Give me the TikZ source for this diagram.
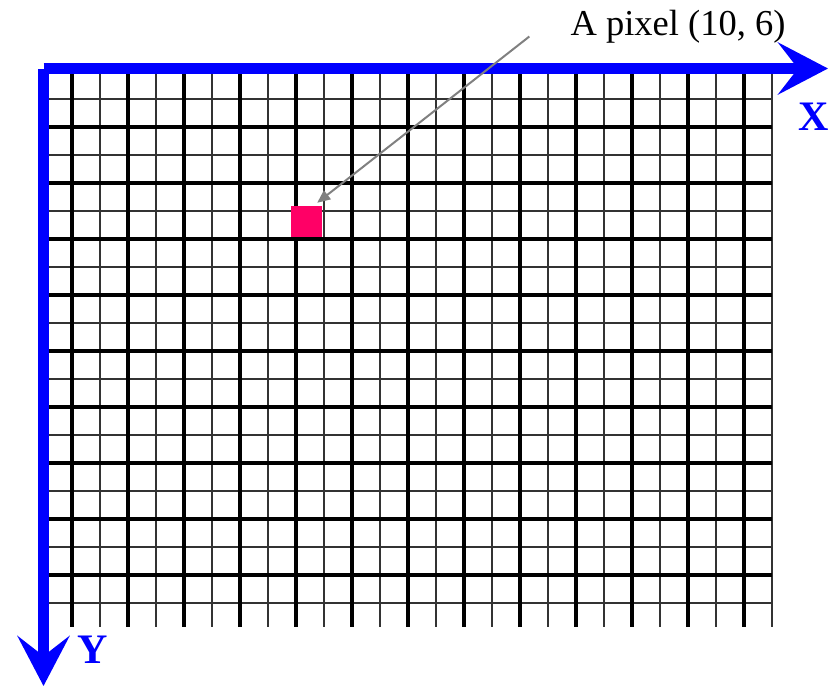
\documentclass[tikz,border=0pt]{standalone}
\usepackage{fontspec}
\setmainfont{Liberation Serif}
\usetikzlibrary{arrows.meta}
\definecolor{pixelred}{RGB}{255,0,102}
\begin{document}
\begin{tikzpicture}[x=1pt,y=-1pt,line cap=butt,line join=miter]
			\tikzset{
				thinrule/.style={black!80,line width=1.8pt},
				thickrule/.style={black,line width=3.8pt},
				axis/.style={blue,line width=11pt,-{Stealth[length=50pt,width=52pt,inset=20pt]}},
				axislabel/.style={blue,inner sep=0pt,font=\fontsize{42}{42}\selectfont\bfseries},
				pixelbox/.style={fill=pixelred,minimum size=31pt,inner sep=0pt},
				pointer/.style={black!50,line width=2pt,-{Triangle[length=13pt,width=11pt]}}
			}
			\useasboundingbox (0,0) rectangle (836,686);
			\foreach \gx in {100,156,...,772} \draw[thinrule] (\gx,71) -- (\gx,627);
			\foreach \gy in {99,155,...,603} \draw[thinrule] (44,\gy) -- (772,\gy);
			\foreach \gx in {72,128,...,744} \draw[thickrule] (\gx,71) -- (\gx,627);
			\foreach \gy in {127,183,...,575} \draw[thickrule] (44,\gy) -- (772,\gy);
			\coordinate (origin) at (43.5,68.5);
			\coordinate (xend) at (828,68.5);
			\coordinate (yend) at (43.5,686);
			\draw[axis] (origin) -- (xend);
			\draw[axis] (origin) -- (yend);
			\node[axislabel] (xlabel) at (814,117) {X};
			\node[axislabel] (ylabel) at (93,650) {Y};
			\node[pixelbox] (pixel) at (306.5,221.5) {};
			\node[inner sep=0pt,anchor=base,font=\fontsize{36.5}{36.5}\selectfont] (caption) at (678,35.5) {A pixel (10, 6)};
			\draw[pointer] ([shift={(-41,1)}]caption.base west) -- ([shift={(-5,-3)}]pixel.north east);
		\end{tikzpicture}
\end{document}
